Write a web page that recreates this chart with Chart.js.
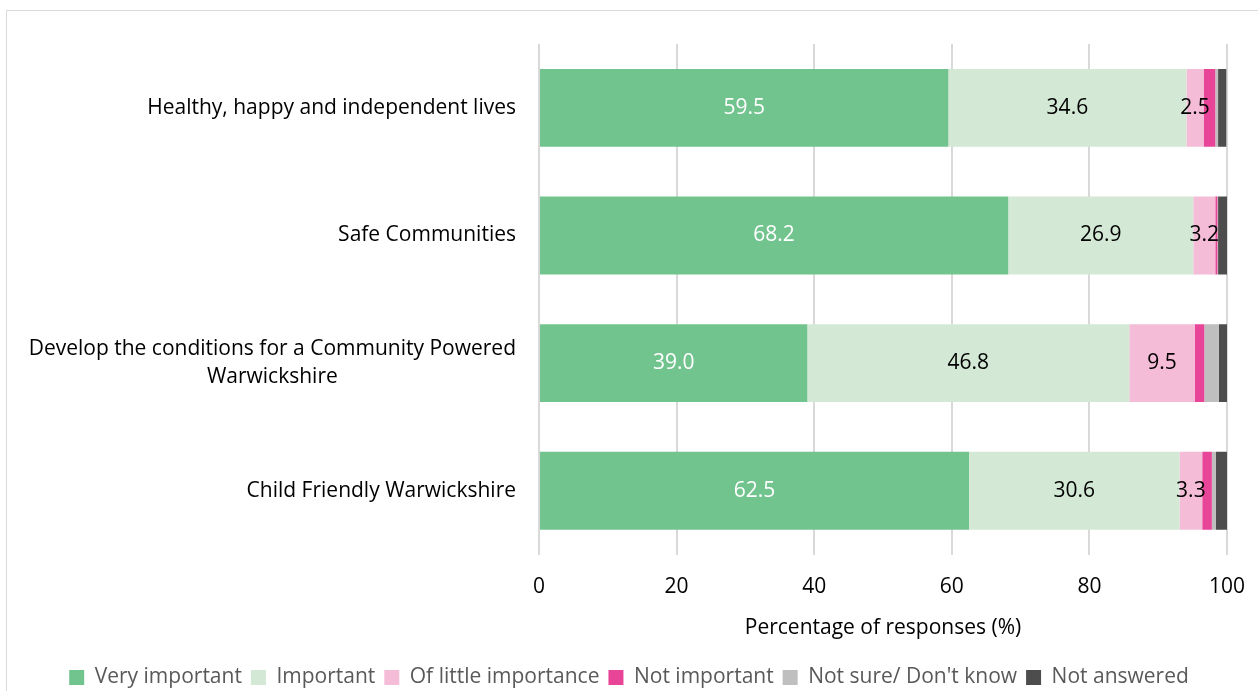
<!DOCTYPE html>
<html>
<head>
<meta charset="utf-8">
<script src="https://cdn.jsdelivr.net/npm/chart.js@4"></script>
<style>
  html, body { margin: 0; background: #fff; overflow: hidden; }
  #frame { position: absolute; left: 6px; top: 10px; right: -4px; bottom: -4px; border: 1px solid #d9d9d9; }
  #wrap { position: absolute; left: 0; top: 0; width: 1258px; height: 691px; }
</style>
</head>
<body>
<div id="frame"></div>
<div id="wrap"><canvas id="chart"></canvas></div>
<script>
const categories = [
  'Healthy, happy and independent lives',
  'Safe Communities',
  ['Develop the conditions for a Community Powered', 'Warwickshire'],
  'Child Friendly Warwickshire'
];
const veryImportant = [59.5, 68.2, 39.0, 62.5];
const important = [34.6, 26.9, 46.8, 30.6];
const littleImportance = [2.5, 3.2, 9.5, 3.3];
const notImportant = [1.7, 0.3, 1.4, 1.4];
const notSure = [0.4, 0.1, 2.1, 0.6];
const notAnswered = [1.2, 1.3, 1.2, 1.6];
const xTicks = [0, 20, 40, 60, 80, 100];

const FONT = 'Open Sans';
const SIZE = 21;

// category labels on the left, right-aligned block with centred lines
const categoryLabels = {
  id: 'categoryLabels',
  afterDraw(chart) {
    const ctx = chart.ctx;
    const y = chart.scales.y;
    const right = chart.chartArea.left - 23;
    ctx.save();
    ctx.font = SIZE + 'px "' + FONT + '"';
    ctx.fillStyle = '#000';
    ctx.textBaseline = 'middle';
    ctx.textAlign = 'center';
    categories.forEach((c, i) => {
      const lines = Array.isArray(c) ? c : [c];
      const w = Math.max(...lines.map(l => ctx.measureText(l).width));
      const cx = right - w / 2;
      const cy = y.getPixelForValue(i);
      const lh = 28;
      lines.forEach((l, j) => {
        ctx.fillText(l, cx, cy + (j - (lines.length - 1) / 2) * lh);
      });
    });
    ctx.restore();
  }
};

// value labels in the first three segments
const valueLabels = {
  id: 'valueLabels',
  afterDatasetsDraw(chart) {
    const ctx = chart.ctx;
    ctx.save();
    ctx.font = SIZE + 'px "' + FONT + '"';
    ctx.textAlign = 'center';
    ctx.textBaseline = 'middle';
    [0, 1, 2].forEach(d => {
      const meta = chart.getDatasetMeta(d);
      meta.data.forEach((bar, i) => {
        const v = chart.data.datasets[d].data[i];
        const cx = (bar.x + bar.base) / 2;
        ctx.fillStyle = d === 0 ? '#fff' : '#000';
        ctx.fillText(v.toFixed(1), cx, bar.y);
      });
    });
    ctx.restore();
  }
};

new Chart(document.getElementById('chart'), {
  type: 'bar',
  data: {
    labels: categories,
    datasets: [
      { label: 'Very important', data: veryImportant, backgroundColor: '#72c48e' },
      { label: 'Important', data: important, backgroundColor: '#d3e8d5' },
      { label: 'Of little importance', data: littleImportance, backgroundColor: '#f5bcd8' },
      { label: 'Not important', data: notImportant, backgroundColor: '#e84598' },
      { label: 'Not sure/ Don\'t know', data: notSure, backgroundColor: '#bfbfbf' },
      { label: 'Not answered', data: notAnswered, backgroundColor: '#4d4d4d' }
    ]
  },
  options: {
    indexAxis: 'y',
    responsive: true,
    maintainAspectRatio: false,
    animation: false,
    datasets: { bar: { categoryPercentage: 0.61, barPercentage: 1 } },
    layout: { padding: { left: 0, right: 0, top: 44, bottom: -7 } },
    scales: {
      x: {
        stacked: true,
        min: 0,
        max: 100,
        afterBuildTicks: s => { s.ticks = xTicks.map(v => ({ value: v })); },
        afterFit: s => { s.paddingRight = 31; },
        grid: { color: '#d9d9d9', lineWidth: 2, drawTicks: false },
        border: { display: false },
        ticks: { color: '#000', font: { family: FONT, size: SIZE }, padding: 20 },
        title: {
          display: true,
          text: 'Percentage of responses (%)',
          color: '#000',
          font: { family: FONT, size: SIZE },
          padding: { top: -4, bottom: 17 }
        }
      },
      y: {
        stacked: true,
        grid: { display: false },
        border: { display: false },
        ticks: { display: false },
        afterFit: s => { s.width = 539; }
      }
    },
    plugins: {
      legend: {
        position: 'bottom',
        labels: {
          color: '#595959',
          font: { family: FONT, size: SIZE },
          boxWidth: 15,
          boxHeight: 15,
          padding: 9
        }
      },
      tooltip: { enabled: false }
    }
  },
  plugins: [categoryLabels, valueLabels]
});
</script>
</body>
</html>
